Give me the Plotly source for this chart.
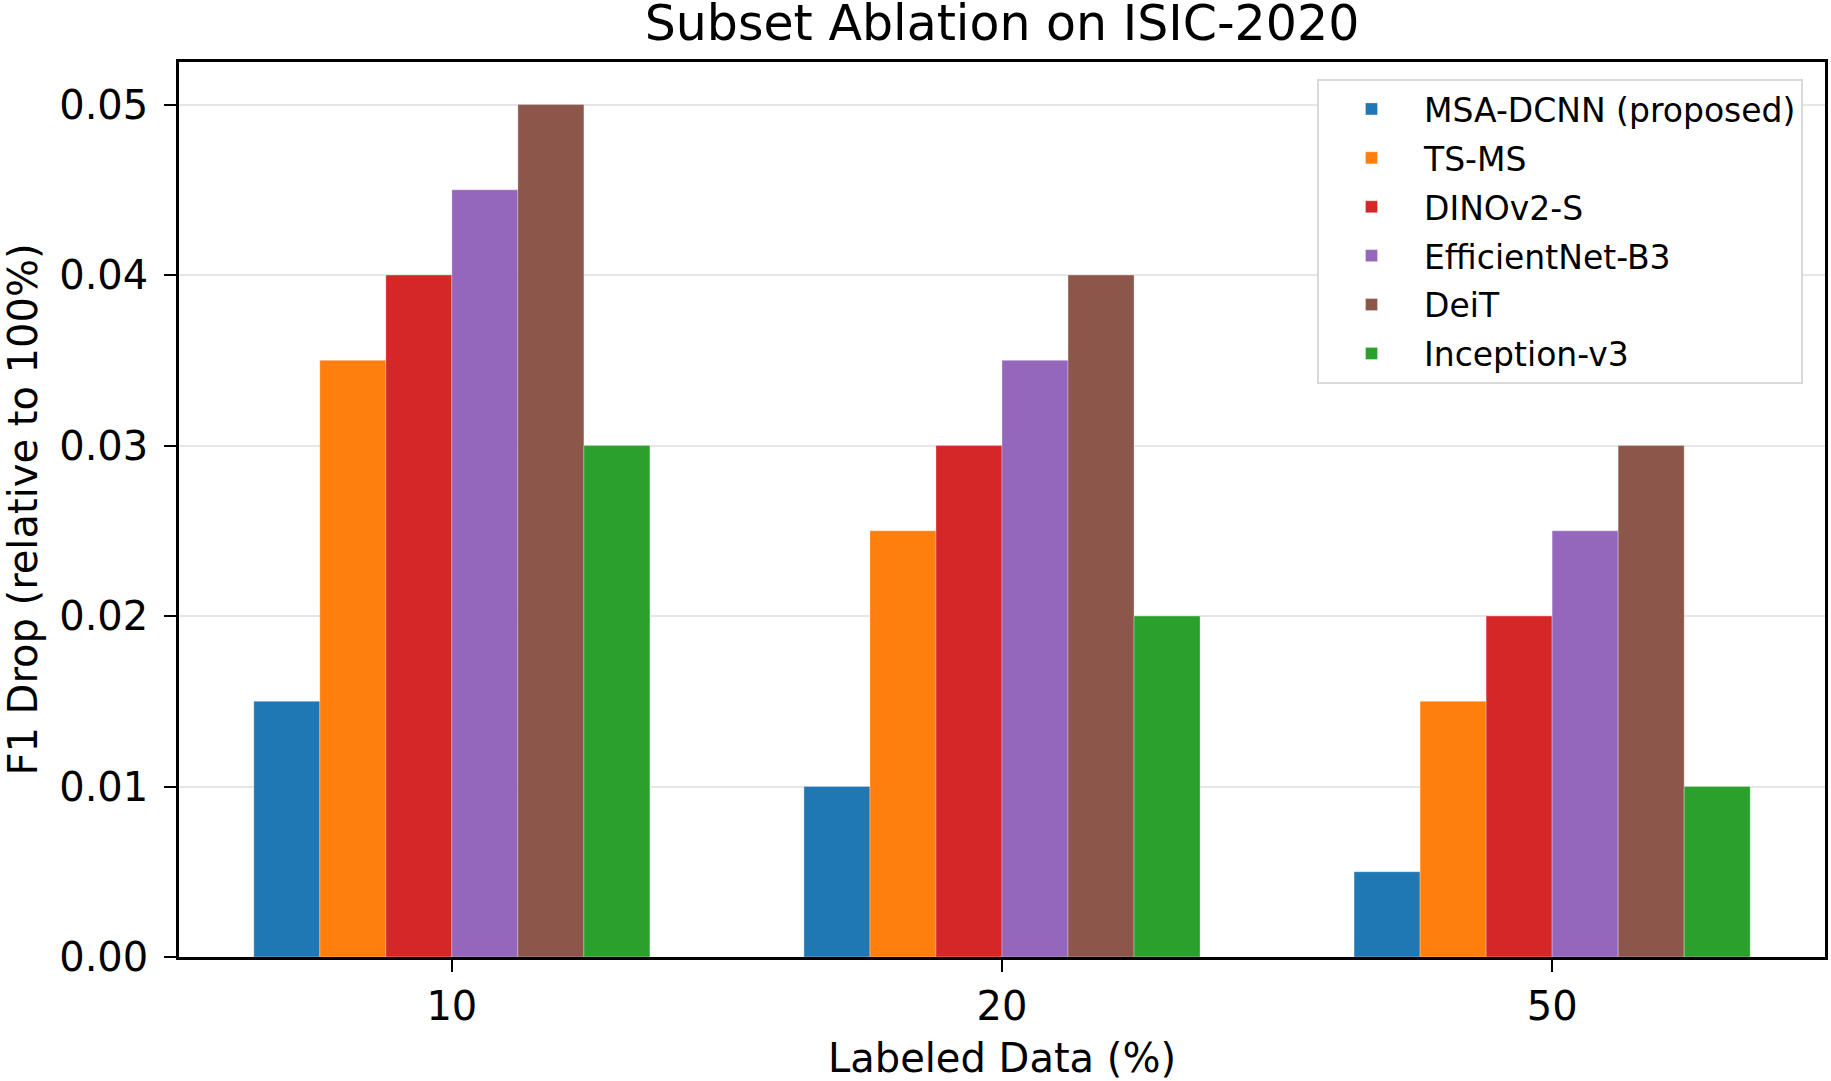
import plotly.graph_objects as go

categories = ["10", "20", "50"]
series_names = ["MSA-DCNN (proposed)", "TS-MS", "DINOv2-S", "EfficientNet-B3", "DeiT", "Inception-v3"]
msa_dcnn = [0.015, 0.010, 0.005]
ts_ms = [0.035, 0.025, 0.015]
dinov2_s = [0.040, 0.030, 0.020]
efficientnet_b3 = [0.045, 0.035, 0.025]
deit = [0.050, 0.040, 0.030]
inception_v3 = [0.030, 0.020, 0.010]
series_values = [msa_dcnn, ts_ms, dinov2_s, efficientnet_b3, deit, inception_v3]
colors = ["#1f77b4", "#ff7f0e", "#d62728", "#9467bd", "#8c564b", "#2ca02c"]
y_ticks = [0.0, 0.01, 0.02, 0.03, 0.04, 0.05]
y_tick_labels = ["0.00", "0.01", "0.02", "0.03", "0.04", "0.05"]

FONT = "DejaVu Sans"
L, R, T, B = 179, 1825, 62, 957.5
W, H = 1831, 1081

fig = go.Figure()
for name, vals, c in zip(series_names, series_values, colors):
    fig.add_trace(go.Bar(
        x=categories, y=vals, name=name, legendgroup=name,
        marker=dict(color=c, line=dict(color="rgba(255,255,255,0.5)", width=0.6)),
    ))

fig.update_layout(
    width=W, height=H,
    margin=dict(l=L, r=W - R, t=T, b=H - B, autoexpand=False),
    paper_bgcolor="white", plot_bgcolor="white",
    barmode="group", bargap=0.28, bargroupgap=0,
    font=dict(family=FONT, color="black", size=40),
    title=dict(text="Subset Ablation on ISIC-2020", font=dict(size=49, family=FONT),
               x=1002 / W, xanchor="center", xref="container",
               y=1 - 23 / H, yanchor="middle", yref="container"),
    legend=dict(
        x=(1317 - L) / (R - L), y=1 - (79 - T) / (B - T), xref="paper", yref="paper",
        xanchor="left", yanchor="top",
        font=dict(size=33, family=FONT),
        bgcolor="white", bordercolor="#d9d9d9", borderwidth=2,
        itemwidth=95, tracegroupgap=3, traceorder="grouped",
    ),
    showlegend=True,
)

fig.update_xaxes(
    type="category", range=[-0.496, 2.496], automargin=False,
    showline=True, linecolor="black", linewidth=2.5, mirror=True,
    ticks="outside", ticklen=12, tickwidth=2, tickcolor="black",
    showgrid=False, ticklabelstandoff=0,
    tickfont=dict(size=40, family=FONT),
    title=dict(text="Labeled Data (%)", font=dict(size=40, family=FONT), standoff=22),
)
fig.update_yaxes(
    range=[0, 0.0525], automargin=False,
    tickvals=y_ticks, ticktext=y_tick_labels,
    showline=True, linecolor="black", linewidth=2.5, mirror=True,
    ticks="outside", ticklen=12, tickwidth=2, tickcolor="black",
    showgrid=True, gridcolor="#e6e6e6", gridwidth=2, zeroline=False,
    ticklabelstandoff=8,
    tickfont=dict(size=40, family=FONT),
    title=dict(text="F1 Drop (relative to 100%)", font=dict(size=40, family=FONT), standoff=18),
)

fig.write_html("out.html")
